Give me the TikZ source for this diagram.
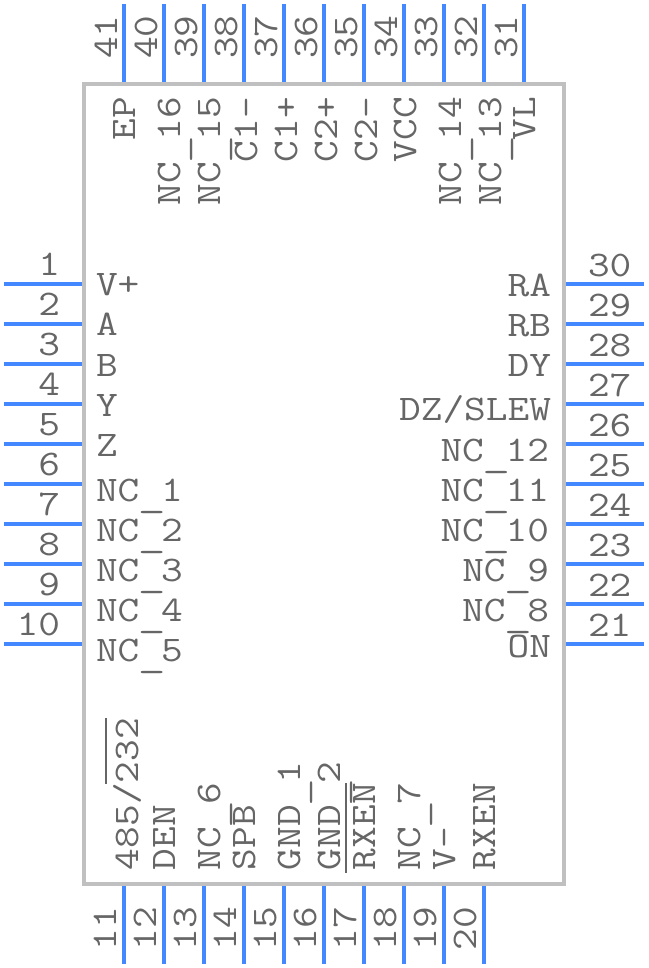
\documentclass[tikz,border=0pt]{standalone}
\usepackage{fontspec}
\newfontfamily\pinfont{Latin Modern Mono}[FakeStretch=1.17]
\definecolor{pinblue}{HTML}{4488FF}
\definecolor{bodygray}{HTML}{C0C0C0}
\definecolor{txtgray}{HTML}{666666}
\newcommand\usc{\smash{\raisebox{-5pt}{\makebox[0pt][l]{\kern-1.5pt\scalebox{1.28}[1]{\_}}\phantom{\_}}}}
\tikzset{
 pinline/.style={draw=pinblue,line width=4pt},
 bodybox/.style={draw=bodygray,line width=4pt},
 lab/.style={inner sep=0pt,outer sep=0pt,text=txtgray,font=\pinfont\fontsize{36}{36}\selectfont},
 barline/.style={draw=txtgray,line width=1.6pt},
}
\begin{document}
\begin{tikzpicture}[x=1pt,y=-1pt]
\useasboundingbox (0,0) rectangle (648,968);
\coordinate (bodyA) at (84,84);
\coordinate (bodyB) at (564,884);
\draw[bodybox] (bodyA) rectangle (bodyB);
% left pins
\foreach \n/\y in {1/284,2/324,3/364,4/404,5/444,6/484,7/524,8/564,9/604,10/644}{
 \coordinate (pl\n) at (82,\y); \coordinate (plo\n) at (4,\y);
 \draw[pinline] (plo\n) -- (pl\n);
 \node[lab,anchor=base east] (numl\n) at (60,\y-9) {\n};
}
% right pins
\foreach \n/\y in {30/284,29/324,28/364,27/404,26/444,25/484,24/524,23/564,22/604,21/644}{
 \coordinate (pr\n) at (566,\y); \coordinate (pro\n) at (644,\y);
 \draw[pinline] (pr\n) -- (pro\n);
 \node[lab,anchor=base west] (numr\n) at (588,\y-8) {\n};
}
% top pins
\foreach \n/\x in {41/124,40/164,39/204,38/244,37/284,36/324,35/364,34/404,33/444,32/484,31/524}{
 \coordinate (pt\n) at (\x,82); \coordinate (pto\n) at (\x,4);
 \draw[pinline] (pto\n) -- (pt\n);
 \node[lab,anchor=base west,rotate=90] (numt\n) at (\x-7,59) {\n};
}
% bottom pins
\foreach \n/\x in {11/124,12/164,13/204,14/244,15/284,16/324,17/364,18/404,19/444,20/484}{
 \coordinate (pb\n) at (\x,886); \coordinate (pbo\n) at (\x,964);
 \draw[pinline] (pb\n) -- (pbo\n);
 \node[lab,anchor=base west,rotate=90] (numb\n) at (\x-8,950) {\n};
}
% left names
\foreach \t/\y [count=\i] in {V+/295,A/335,B/376,Y/416,Z/456,NC\usc 1/501,NC\usc 2/541,NC\usc 3/581,NC\usc 4/621,NC\usc 5/661}{
 \node[lab,anchor=base west] (nl\i) at (96,\y) {\t};
}
% right names
\foreach \t/\y/\xr [count=\i] in {RA/296/551,RB/336/551,DY/376/551,{DZ/SLEW}/420/551,NC\usc 12/461/549,NC\usc 11/501/549,NC\usc 10/541/549,NC\usc 9/581/549,NC\usc 8/621/549,ON/657/551}{
 \node[lab,anchor=base east] (nr\i) at (\xr,\y) {\t};
}
% top names
\foreach \t/\x [count=\i] in {EP/135,NC\usc 16/180,NC\usc 15/220,C1-/257,C1+/297,C2+/337,C2-/377,VCC/416,NC\usc 14/461,NC\usc 13/501,VL/535}{
 \node[lab,anchor=base east,rotate=90] (nt\i) at (\x,97) {\t};
}
% bottom names
\foreach \t/\x [count=\i] in {{485/232}/138,DEN/175,NC\usc 6/220,SPB/255,GND\usc 1/300,GND\usc 2/340,RXEN/375,NC\usc 7/420,V-/455,RXEN/495}{
 \node[lab,anchor=base west,rotate=90] (nb\i) at (\x,870) {\t};
}
% overbars
\coordinate (ovA) at (106,718); \coordinate (ovB) at (106,784);
\draw[barline] (ovA) -- (ovB);
\coordinate (ovC) at (346,783); \coordinate (ovD) at (346,873);
\draw[barline] (ovC) -- (ovD);
\end{tikzpicture}
\end{document}
